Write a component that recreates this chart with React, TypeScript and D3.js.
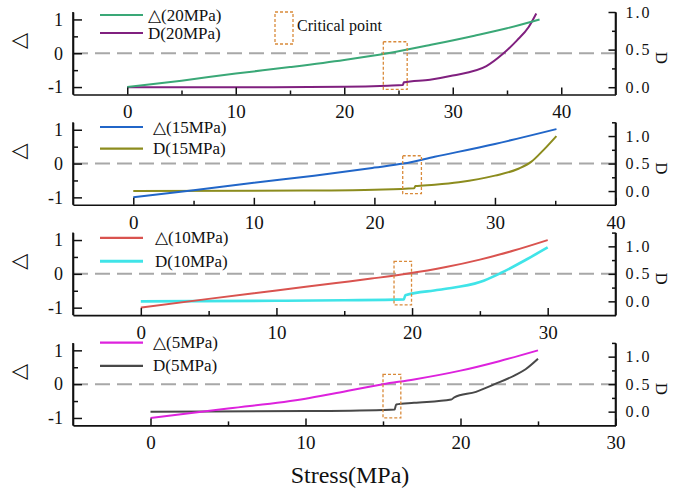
import * as d3 from "d3";
import React, { useEffect, useRef } from "react";

// confining pressures, one panel each (top to bottom)
const pressures = ["20MPa", "15MPa", "10MPa", "5MPa"];
const stressMax = [45, 40, 35, 30];
const stressMajor = [[0, 10, 20, 30, 40], [0, 10, 20, 30, 40], [0, 10, 20, 30], [0, 10, 20, 30]];
const stressMinor = [[5, 15, 25, 35], [5, 15, 25, 35], [5, 15, 25], [5, 15, 25]];
const deltaMajor = [-1, 0, 1];
const deltaMinor = [-0.5, 0.5];
const damageDomain = [[-0.097, 1.0], [-0.25, 1.25], [-0.25, 1.25], [-0.25, 1.25]];
const damageMajor = [0, 0.5, 1.0];
const damageMinor = [[0.25, 0.75], [0.25, 0.75, 1.25], [0.25, 0.75, 1.25], [0.25, 0.75, 1.25]];

const deltaColors = ["#3aa877", "#2166c8", "#d9534f", "#dd22dd"];
const damageColors = ["#80207f", "#8c8c1e", "#40e4e8", "#484848"];

// Δ curves
const delta20X = [0, 5, 10, 15, 20, 24, 28, 32, 35, 38];
const delta20Y = [-1, -0.81, -0.6, -0.41, -0.2, 0, 0.25, 0.52, 0.74, 1.0];
const delta15X = [0, 5, 10, 15, 20, 22.4, 25, 30, 35.1];
const delta15Y = [-1, -0.79, -0.57, -0.36, -0.12, 0, 0.2, 0.58, 1.02];
const delta10X = [0, 5, 10, 14.4, 17, 19.6, 22.5, 25, 27.5, 30];
const delta10Y = [-1, -0.74, -0.49, -0.27, -0.14, 0, 0.2, 0.42, 0.69, 1.0];
const delta5X = [0, 5, 10, 12, 15, 17, 20, 22.5, 25];
const delta5Y = [-1, -0.72, -0.43, -0.26, 0, 0.14, 0.4, 0.68, 1.0];

// D curves (right axis)
const damage20X = [0, 10, 20, 24, 25.4, 25.5, 27.9, 30, 33.1, 34.6, 35.9, 37, 37.7];
const damage20Y = [0, 0, 0.005, 0.02, 0.03, 0.065, 0.1, 0.155, 0.28, 0.44, 0.62, 0.8, 0.98];
const damage15X = [0, 10, 15, 20, 23.3, 23.4, 25, 27, 30, 32, 33, 34, 35.1];
const damage15Y = [0, 0.005, 0.01, 0.025, 0.05, 0.09, 0.115, 0.16, 0.28, 0.41, 0.53, 0.74, 1.0];
const damage10X = [0, 10, 15, 19.4, 19.5, 22, 25, 26.5, 28.5, 30];
const damage10Y = [0, 0.01, 0.02, 0.036, 0.11, 0.21, 0.35, 0.51, 0.77, 0.98];
const damage5X = [0, 10, 15, 15.75, 15.85, 17, 19.4, 19.6, 21, 22.2, 23.5, 24.2, 25];
const damage5Y = [0, 0.01, 0.03, 0.04, 0.13, 0.16, 0.22, 0.26, 0.36, 0.5, 0.66, 0.77, 0.96];

const deltaX = [delta20X, delta15X, delta10X, delta5X];
const deltaY = [delta20Y, delta15Y, delta10Y, delta5Y];
const damageX = [damage20X, damage15X, damage10X, damage5X];
const damageY = [damage20Y, damage15Y, damage10Y, damage5Y];

// critical point boxes: stress from/to, Δ top/bottom
const critStress = [[23.6, 25.8], [22.35, 23.9], [18.67, 19.96], [15.0, 16.15]];
const critDelta = [[0.34, -1.07], [0.23, -0.89], [0.37, -0.92], [0.29, -1.0]];

const legendRows = [[3, 21], [4.7, 26.3], [5.3, 28.7], [-0.3, 23]];
const legendTextX = [148, 153, 155, 153];

const W = 674, H = 493;
const left = 73, right = 615.5;
const panelH = 82.5;
const serif = "Liberation Serif, Times New Roman, serif";

function styleAxis(g: any, size: number) {
    g.select(".domain").attr("stroke", "#111").attr("stroke-width", 1.6);
    g.selectAll(".tick line").attr("stroke", "#111").attr("stroke-width", 1.5);
    g.selectAll(".tick text").attr("fill", "#111").attr("font-family", serif).attr("font-size", size);
}

function drawPanel(root: any, i: number) {
    const top = 12 + i * 110.3;
    const g = root.append("g").attr("transform", `translate(0,${top})`)
        .attr("font-family", serif);

    const x = d3.scaleLinear().domain([-5, stressMax[i]]).range([left, right]);
    const y = d3.scaleLinear().domain([-1.22, 1.22]).range([panelH, 0]);
    const yD = d3.scaleLinear().domain(damageDomain[i]).range([panelH, 0]);

    // dashed zero line
    g.append("line")
        .attr("x1", left).attr("x2", right)
        .attr("y1", y(0)).attr("y2", y(0))
        .attr("stroke", "#a8a8a8").attr("stroke-width", 2)
        .attr("stroke-dasharray", "15,7");

    const line = d3.line<[number, number]>().curve(d3.curveMonotoneX);

    const dPts: [number, number][] = damageX[i].map((v, k) => [x(v), yD(damageY[i][k])]);
    g.append("path").attr("d", line(dPts)).attr("fill", "none")
        .attr("stroke", damageColors[i]).attr("stroke-width", i == 2 ? 2.6 : 2);

    const pts: [number, number][] = deltaX[i].map((v, k) => [x(v), y(deltaY[i][k])]);
    g.append("path").attr("d", line(pts)).attr("fill", "none")
        .attr("stroke", deltaColors[i]).attr("stroke-width", 2);

    // critical point
    g.append("rect")
        .attr("x", x(critStress[i][0])).attr("y", y(critDelta[i][0]))
        .attr("width", x(critStress[i][1]) - x(critStress[i][0]))
        .attr("height", y(critDelta[i][1]) - y(critDelta[i][0]))
        .attr("fill", "none").attr("stroke", "#d98a3a")
        .attr("stroke-width", 1.3).attr("stroke-dasharray", "3,2");

    // axes
    const ax = g.append("g").attr("transform", `translate(0,${panelH})`)
        .call(d3.axisBottom(x).tickValues(stressMajor[i]).tickSize(-7).tickSizeOuter(0).tickPadding(10.5).tickFormat((d: any) => String(d)));
    styleAxis(ax, 19);
    const axm = g.append("g").attr("transform", `translate(0,${panelH})`)
        .call(d3.axisBottom(x).tickValues(stressMinor[i]).tickSize(-4).tickFormat(() => ""));
    axm.select(".domain").remove();
    styleAxis(axm, 19);

    const ay = g.append("g").attr("transform", `translate(${left},0)`)
        .call(d3.axisLeft(y).tickValues(deltaMajor).tickSize(-9).tickSizeOuter(0).tickPadding(10).tickFormat((d: any) => String(d)));
    styleAxis(ay, 18);
    const aym = g.append("g").attr("transform", `translate(${left},0)`)
        .call(d3.axisLeft(y).tickValues(deltaMinor).tickSize(-5).tickFormat(() => ""));
    aym.select(".domain").remove();
    styleAxis(aym, 18);

    const ad = g.append("g").attr("transform", `translate(${right},0)`)
        .call(d3.axisRight(yD).tickValues(damageMajor).tickSize(-7).tickSizeOuter(0).tickPadding(10).tickFormat(d3.format(".1f")));
    styleAxis(ad, 16);
    ad.selectAll(".tick text").attr("letter-spacing", 2);
    const adm = g.append("g").attr("transform", `translate(${right},0)`)
        .call(d3.axisRight(yD).tickValues(damageMinor[i]).tickSize(-3.5).tickFormat(() => ""));
    adm.select(".domain").remove();
    styleAxis(adm, 16);
    // side axis lines over the full panel height
    g.append("line").attr("x1", right).attr("x2", right).attr("y1", 0).attr("y2", panelH)
        .attr("stroke", "#111").attr("stroke-width", 1.6);
    g.append("line").attr("x1", left).attr("x2", left).attr("y1", 0).attr("y2", panelH)
        .attr("stroke", "#111").attr("stroke-width", 1.6);

    // axis titles
    g.append("text").text("△")
        .attr("transform", `translate(18,29) rotate(-90)`)
        .attr("text-anchor", "middle").attr("dy", "0.35em")
        .attr("font-family", "DejaVu Sans, sans-serif").attr("font-size", 21).attr("fill", "#111");
    g.append("text").text("D")
        .attr("transform", `translate(662,46) rotate(90)`)
        .attr("text-anchor", "middle").attr("dy", "0.35em")
        .attr("font-size", 17).attr("fill", "#111");

    // legend
    const names = ["△(" + pressures[i] + ")", "D(" + pressures[i] + ")"];
    const cols = [deltaColors[i], damageColors[i]];
    legendRows[i].forEach((ly, k) => {
        g.append("line").attr("x1", 100).attr("x2", 143).attr("y1", ly).attr("y2", ly)
            .attr("stroke", cols[k]).attr("stroke-width", i == 2 && k == 1 ? 3 : 2.2);
        g.append("text").text(names[k])
            .attr("x", legendTextX[i]).attr("y", ly + 5.5)
            .attr("font-size", 17).attr("fill", "#111");
    });

    if (i == 0) {
        g.append("rect").attr("x", 275).attr("y", 0).attr("width", 18).attr("height", 32)
            .attr("fill", "none").attr("stroke", "#d98a3a")
            .attr("stroke-width", 1.3).attr("stroke-dasharray", "3,2");
        g.append("text").text("Critical point").attr("x", 297).attr("y", 19)
            .attr("font-size", 16).attr("fill", "#111");
    }
}

export default function App() {
    const svg = useRef<SVGSVGElement>(null);

    useEffect(() => {
        const root = d3.select(svg.current);
        root.selectAll("*").remove();
        for (let i = 0; i < pressures.length; i++) drawPanel(root, i);
        root.append("text").text("Stress(MPa)")
            .attr("x", 350).attr("y", 483).attr("text-anchor", "middle")
            .attr("font-family", serif).attr("font-size", 24).attr("fill", "#111");
    }, []);

    return <svg ref={svg} width={W} height={H}
        style={{ position: "absolute", left: 0, top: 0, background: "#fff" }}></svg>;
}
